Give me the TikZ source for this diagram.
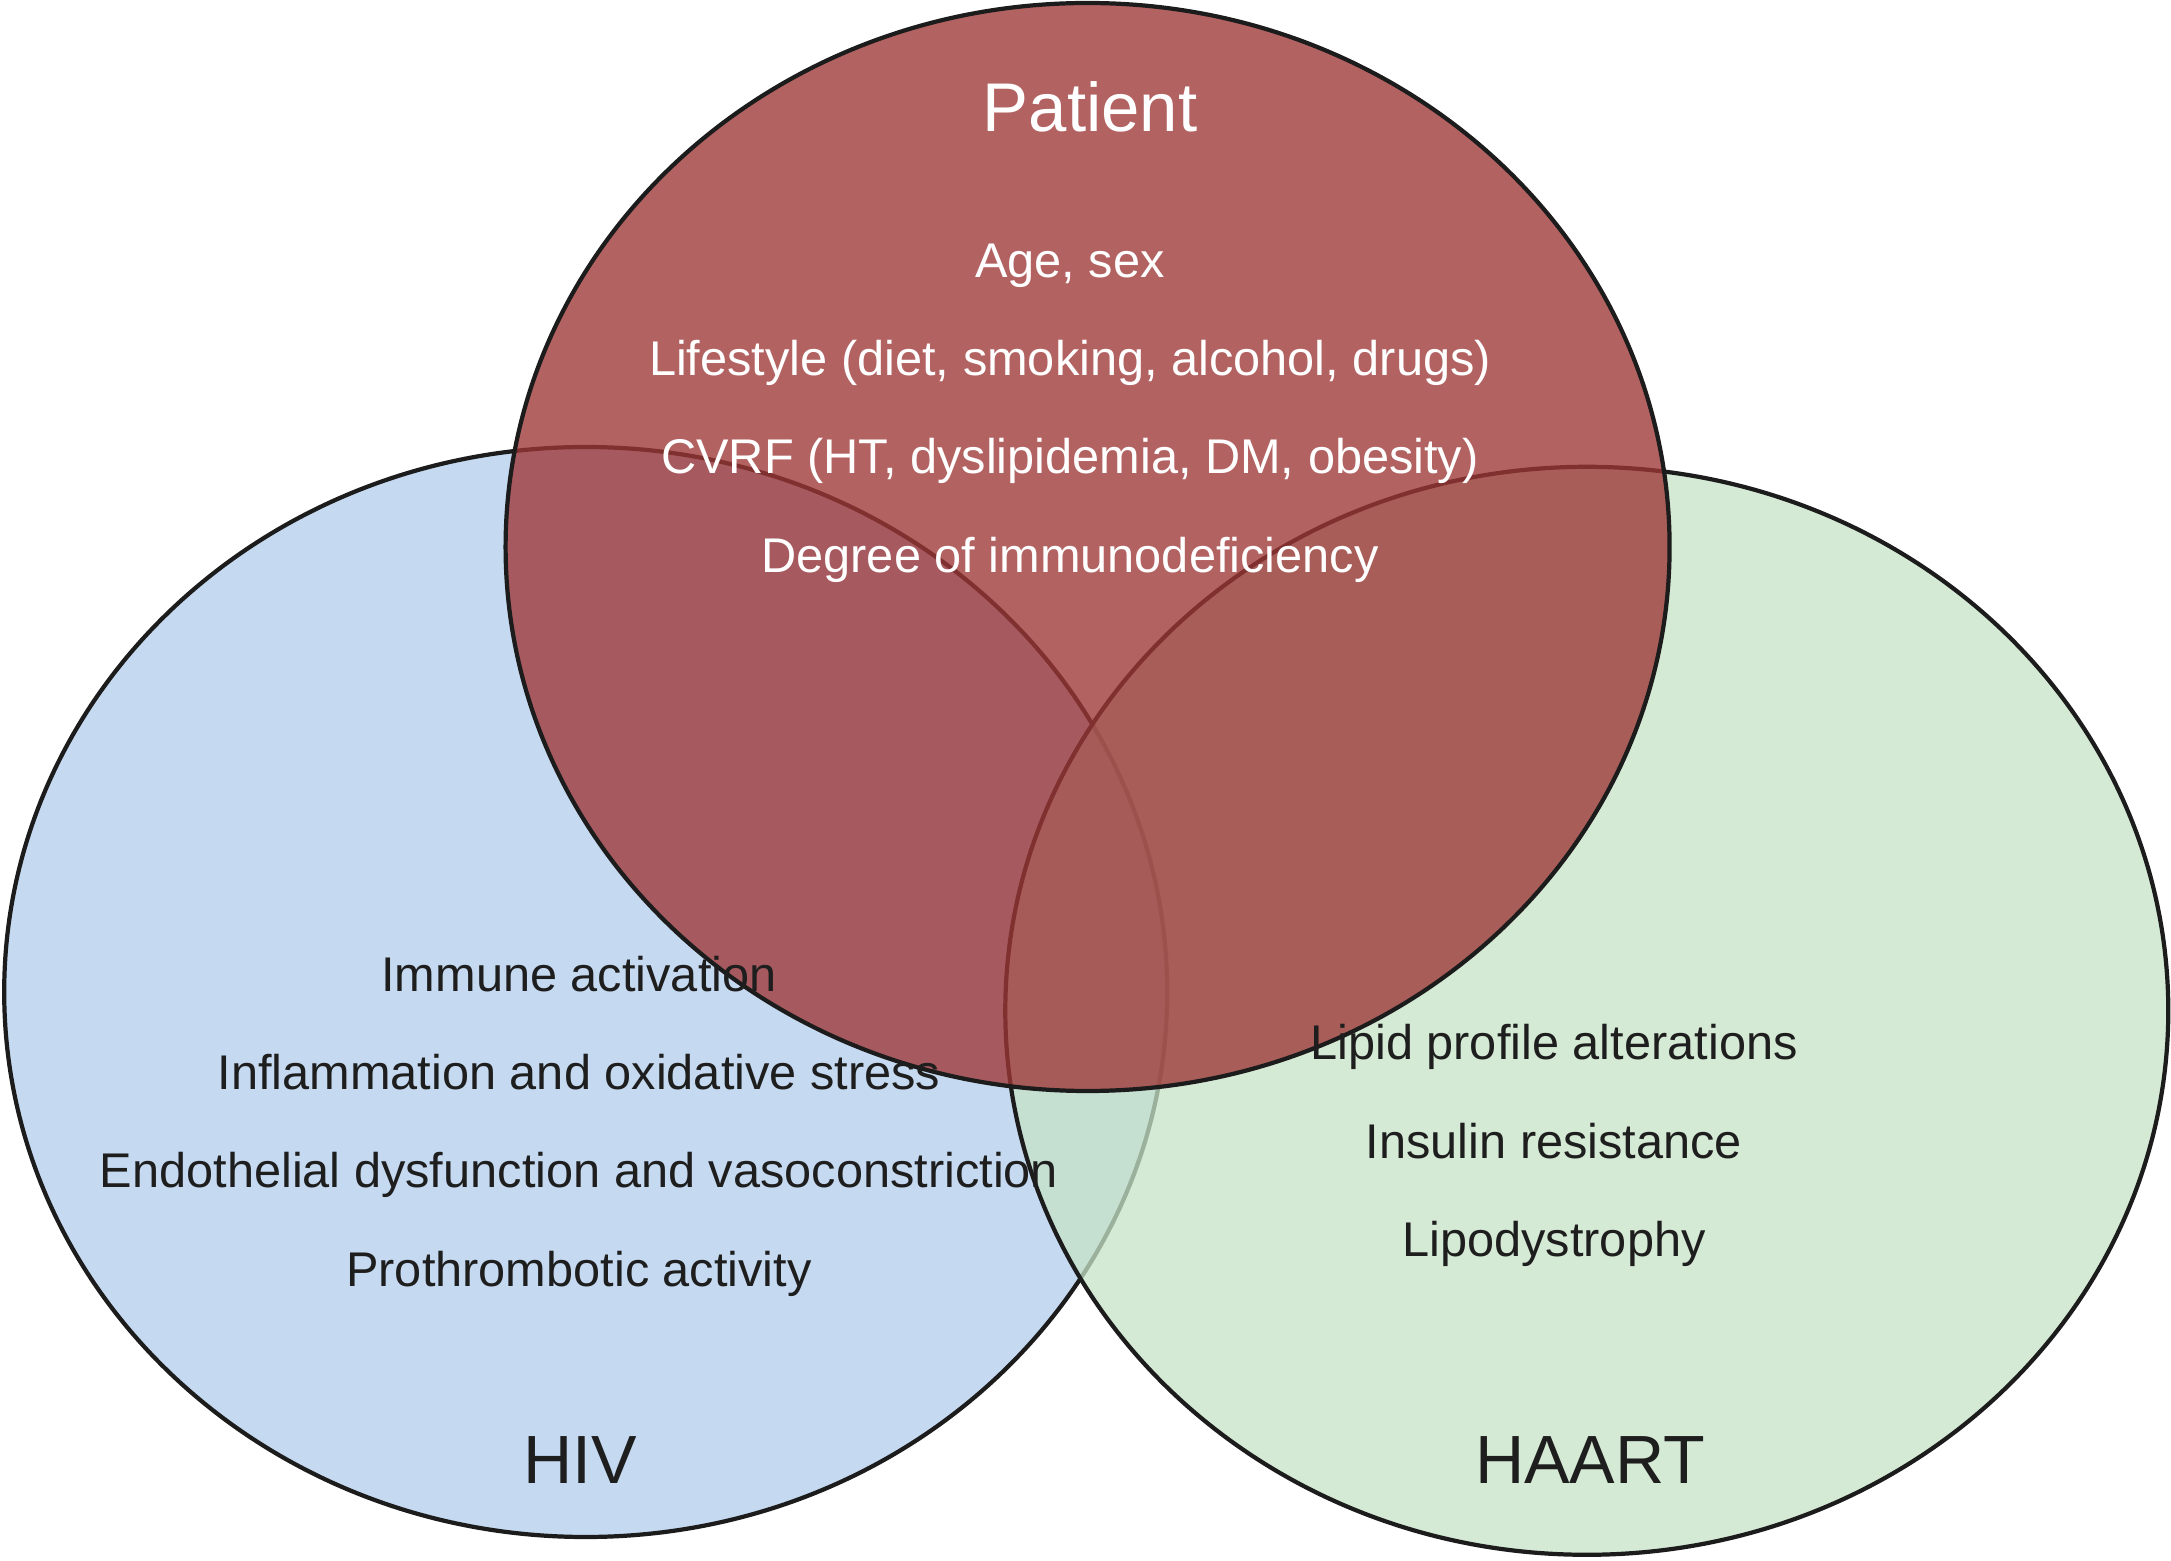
\documentclass[tikz,border=0pt]{standalone}
\usepackage{fontspec}
\setmainfont{Liberation Sans}
\definecolor{bluefill}{RGB}{197,217,240}
\definecolor{greenfill}{RGB}{198,227,199}
\definecolor{redfill}{RGB}{158,54,54}
\definecolor{outlinecol}{RGB}{28,28,28}
\definecolor{txtdark}{RGB}{30,30,30}
\tikzset{
  setline/.style={draw=outlinecol, line width=1.2pt},
  bodytext/.style={inner sep=0pt, anchor=base, font=\fontsize{13.85pt}{16pt}\selectfont},
  darktext/.style={bodytext, text=txtdark},
  lighttext/.style={bodytext, text=white},
  titletext/.style={inner sep=0pt, anchor=base, font=\fontsize{19.4pt}{22pt}\selectfont},
}
\begin{document}
\begin{tikzpicture}[x=0.01cm, y=-0.01cm]
\useasboundingbox (0,0) rectangle (2171,1561);
% HIV set
\path[setline, fill=bluefill] (585.7,992) ellipse [x radius=581.5, y radius=545];
% HAART set
\path[setline, fill=greenfill, fill opacity=0.75] (1586.8,1010.8) ellipse [x radius=581.5, y radius=544];
% Patient set
\path[setline, fill=redfill, fill opacity=0.78] (1087.6,547) ellipse [x radius=582, y radius=544];

% Patient texts
\node[titletext, text=white, font=\fontsize{19.6pt}{22pt}\selectfont] (patient) at (1090,132) {Patient};
\node[lighttext] (age) at (1070,278) {Age, sex};
\node[lighttext] (life) at (1070,376) {Lifestyle (diet, smoking, alcohol, drugs)};
\node[lighttext] (cvrf) at (1070,474) {CVRF (HT, dyslipidemia, DM, obesity)};
\node[lighttext] (degree) at (1070,573) {Degree of immunodeficiency};

% HIV texts
\node[darktext] (immune) at (579,992) {Immune activation};
\node[darktext] (inflam) at (579,1090) {Inflammation and oxidative stress};
\node[darktext] (endo) at (579,1188) {Endothelial dysfunction and vasoconstriction};
\node[darktext] (proth) at (579,1287) {Prothrombotic activity};
\node[titletext, text=txtdark] (hiv) at (580,1483) {HIV};

% HAART texts
\node[darktext] (lipid) at (1554,1060) {Lipid profile alterations};
\node[darktext] (insulin) at (1554,1159) {Insulin resistance};
\node[darktext] (lipo) at (1554,1257) {Lipodystrophy};
\node[titletext, text=txtdark] (haart) at (1590,1483) {HAART};
\end{tikzpicture}
\end{document}
